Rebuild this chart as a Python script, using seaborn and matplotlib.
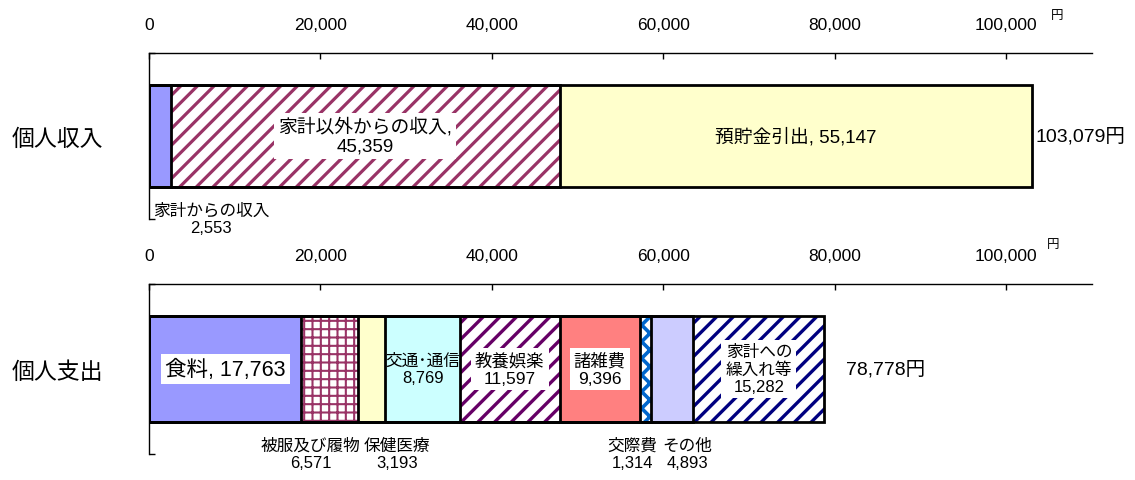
import matplotlib
matplotlib.use("Agg")
import matplotlib.pyplot as plt
from matplotlib.ticker import StrMethodFormatter
import numpy as np
import seaborn as sns

# data
income_cat = "個人収入"
income_labels = ["家計からの収入", "家計以外からの収入", "預貯金引出"]
income_values = [2553, 45359, 55147]
income_total = 103079

spend_cat = "個人支出"
spend_labels = ["食料", "被服及び履物", "保健医療", "交通･通信", "教養娯楽",
                "諸雑費", "交際費", "その他", "家計への\n繰入れ等"]
spend_values = [17763, 6571, 3193, 8769, 11597, 9396, 1314, 4893, 15282]
spend_total = 78778

x_ticks = [0, 20000, 40000, 60000, 80000, 100000]
unit = "円"

# styles: facecolor, hatch, hatch colour, hatch linewidth
income_styles = [
    ("#9999FF", None, None, 0),
    ("white", "//", "#993366", 2.3),
    ("#FFFFCC", None, None, 0),
]
spend_styles = [
    ("#9999FF", None, None, 0),
    ("white", "++", "#993366", 1.5),
    ("#FFFFCC", None, None, 0),
    ("#CCFFFF", None, None, 0),
    ("white", "//", "#660066", 2.4),
    ("#FF8080", None, None, 0),
    ("white", "xx", "#0066CC", 2.6),
    ("#CCCCFF", None, None, 0),
    ("white", "//", "#000080", 2.4),
]

# label layout: where, separator, fontsize, white box, x offset (px)
income_layout = [
    ("below", "\n", 12, False, 51),
    ("in", ",\n", 13.5, True, 0),
    ("in", ", ", 13.5, False, 0),
]
spend_layout = [
    ("in", ", ", 15.5, True, 0),
    ("below", "\n", 12, False, -19),
    ("below", "\n", 12, False, 26),
    ("in", "\n", 12, False, 0),
    ("in", "\n", 12.5, True, 0),
    ("in", "\n", 12.5, True, 0),
    ("below", "\n", 12, False, -13),
    ("below", "\n", 12, False, 15),
    ("in", "\n", 12, True, 0),
]

sns.set_theme(style="white")
plt.rcParams["font.family"] = ["Liberation Sans", "Noto Sans CJK JP"]

fig = plt.figure(figsize=(11.35, 4.81), dpi=100)
ax1 = fig.add_axes([0.1313, 0.5426, 0.8308, 0.3451])
ax2 = fig.add_axes([0.1313, 0.0541, 0.8308, 0.3534])


def draw_panel(ax, cat, labels, values, styles, layout, total, total_dx, half):
    cum = np.cumsum(values)
    # stacked bar: longest first, each shorter one covers the previous
    for i in range(len(values) - 1, -1, -1):
        fc, hatch, hc, hlw = styles[i]
        with plt.rc_context({"hatch.linewidth": hlw if hlw else 1.0}):
            sns.barplot(x=[cum[i]], y=[cat], orient="h", color=fc, saturation=1,
                        width=1.0, hatch=hatch, edgecolor=hc if hc else fc,
                        linewidth=0, ax=ax)
    for i in range(len(values) - 1, -1, -1):
        sns.barplot(x=[cum[i]], y=[cat], orient="h", color="black", fill=False,
                    width=1.0, linewidth=2, ax=ax)

    # labels
    for i, (lab, val) in enumerate(zip(labels, values)):
        where, sep, fs, box, dx = layout[i]
        mid = cum[i] - val / 2
        txt = f"{lab}{sep}{val:,}"
        bb = dict(facecolor="white", edgecolor="none", pad=3) if box else None
        if where == "in":
            ax.annotate(txt, xy=(mid, 0), xytext=(dx * 0.72, 0),
                        textcoords="offset points", ha="center", va="center",
                        fontsize=fs, linespacing=1.15, bbox=bb, color="black")
        else:
            ax.annotate(txt, xy=(mid, 0), xycoords=ax.get_xaxis_transform(),
                        xytext=(dx * 0.72, 0), textcoords="offset points",
                        ha="center", va="center", fontsize=fs,
                        linespacing=1.2, color="black", annotation_clip=False)
    ax.annotate(f"{total:,}{unit}", xy=(cum[-1], 0), xytext=(total_dx * 0.72, 0),
                textcoords="offset points", ha="left", va="center",
                fontsize=14, color="black")

    ax.set_xlim(0, 110000)
    ax.set_ylim(half, -half)
    ax.set_xticks(x_ticks)
    ax.xaxis.set_major_formatter(StrMethodFormatter("{x:,.0f}"))
    ax.xaxis.tick_top()
    ax.tick_params(axis="x", direction="in", length=4, width=1, color="black",
                   pad=15, labelsize=12.5, labelcolor="black", top=True, bottom=False)
    ax.set_yticks([0], [cat])
    ax.set_yticks([-half, half], minor=True)
    ax.tick_params(axis="y", which="major", length=0, pad=33, labelsize=16.5,
                   labelcolor="black")
    ax.tick_params(axis="y", which="minor", direction="in", length=4, width=1,
                   color="black", left=True)
    ax.set_xlabel("")
    ax.set_ylabel("")
    for s in ["right", "bottom"]:
        ax.spines[s].set_visible(False)
    for s in ["top", "left"]:
        ax.spines[s].set_color("black")
        ax.spines[s].set_linewidth(1)
    ax.grid(False)


draw_panel(ax1, income_cat, income_labels, income_values, income_styles,
           income_layout, income_total, 3, 0.815)
draw_panel(ax2, spend_cat, spend_labels, spend_values, spend_styles,
           spend_layout, spend_total, 22, 0.795)

ax1.text(0.963, 1.229, unit, transform=ax1.transAxes, ha="center", va="center",
         fontsize=9, color="black")
ax2.text(0.959, 1.235, unit, transform=ax2.transAxes, ha="center", va="center",
         fontsize=9, color="black")

fig.savefig("out.png", dpi=100)
